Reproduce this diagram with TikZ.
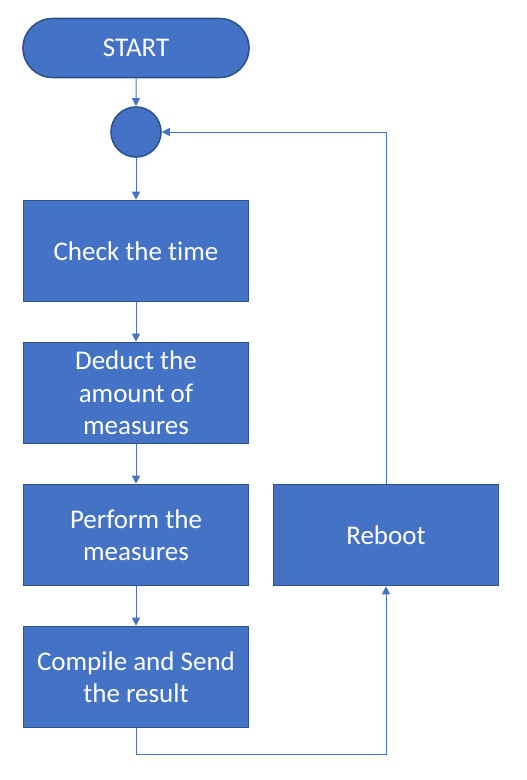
\documentclass[tikz,border=0pt]{standalone}
\usepackage{fontspec}
\setmainfont[Ligatures={NoCommon}]{Carlito}
\usetikzlibrary{arrows.meta,shapes.misc}
\definecolor{fillblue}{HTML}{4472C4}
\definecolor{edgeblue}{HTML}{2F528F}
\tikzset{
  stepbox/.style={draw=edgeblue, line width=1.6pt, fill=fillblue, minimum width=225pt, minimum height=101pt, inner sep=0pt, text=white, align=center, font=\fontsize{27}{32.5}\selectfont},
  startbox/.style={stepbox, rounded rectangle, minimum width=226pt, minimum height=59pt},
  joint/.style={circle, draw=edgeblue, line width=1.6pt, fill=fillblue, minimum size=50pt, inner sep=0pt},
  conn/.style={draw=fillblue, line width=1pt, -{Triangle[width=8pt,length=8pt]}},
}
\begin{document}
\begin{tikzpicture}[x=1pt,y=-1pt]
\useasboundingbox (0,0) rectangle (527,780);
\node[startbox] (start) at (136,48) {START};
\node[joint] (j) at (136,132) {};
\node[stepbox] (check) at (136,251) {Check the time};
\node[stepbox] (deduct) at (136,393) {Deduct the\\amount of\\measures};
\node[stepbox] (perform) at (136,535) {Perform the\\measures};
\node[stepbox] (compile) at (136,677) {Compile and Send\\the result};
\node[stepbox] (reboot) at (386,535) {Reboot};
\coordinate (c1) at (136,754);
\coordinate (c2) at (386,754);
\coordinate (c3) at (386,132);
\draw[conn] (start) -- (j);
\draw[conn] (j) -- (check);
\draw[conn] (check) -- (deduct);
\draw[conn] (deduct) -- (perform);
\draw[conn] (perform) -- (compile);
\draw[conn] (compile.south) -- (c1) -- (c2) -- (reboot.south);
\draw[conn] (reboot.north) -- (c3) -- (j.east);
\end{tikzpicture}
\end{document}
